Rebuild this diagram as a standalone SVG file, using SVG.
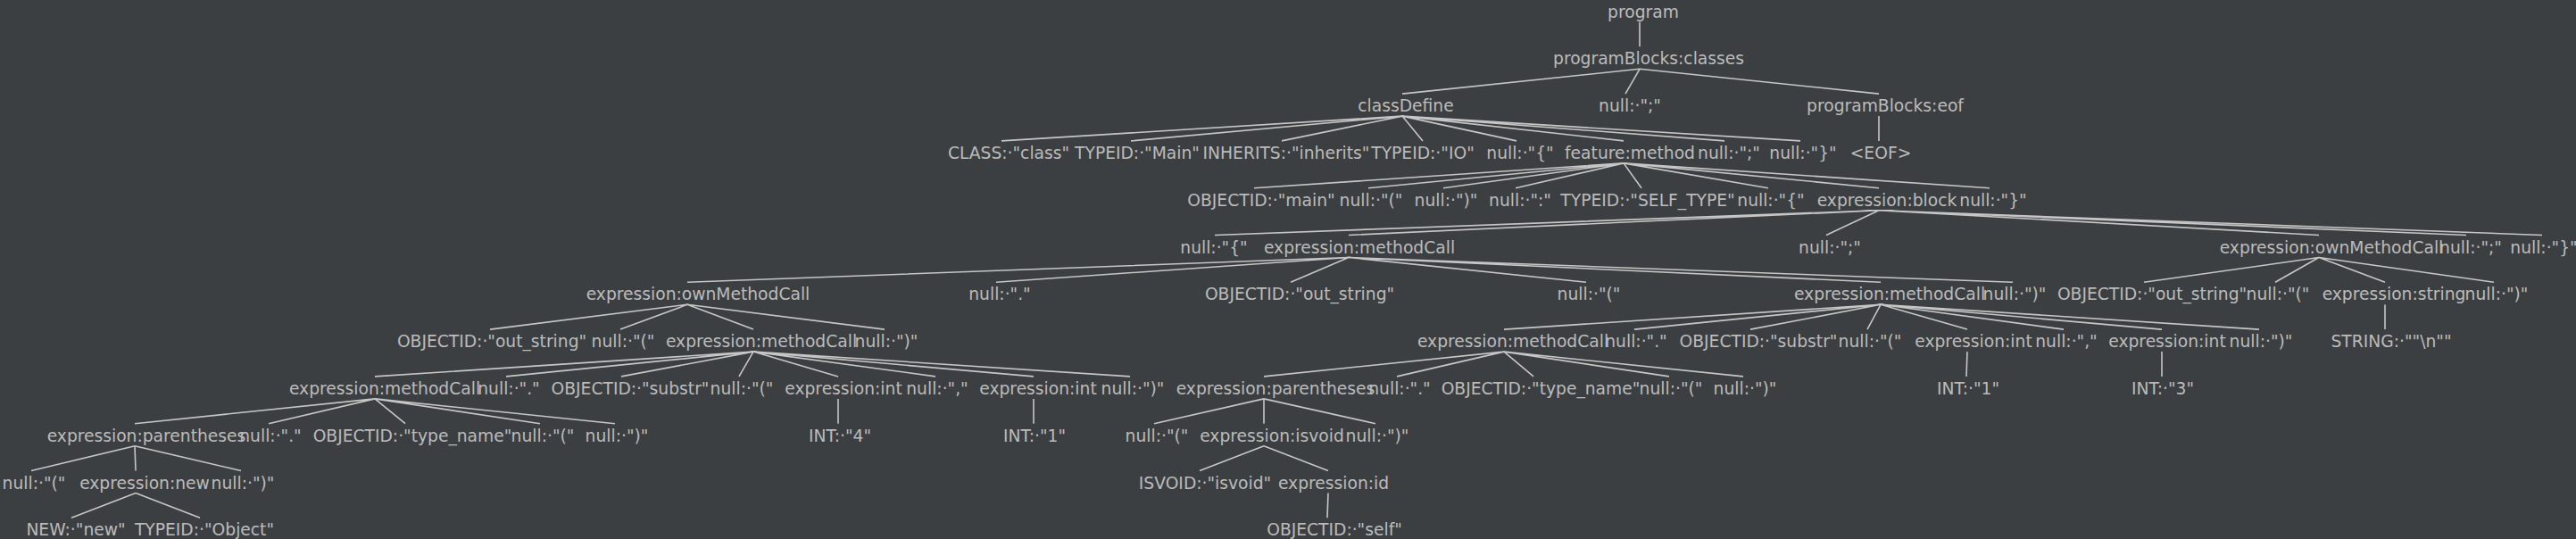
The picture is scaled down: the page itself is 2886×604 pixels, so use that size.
<svg xmlns="http://www.w3.org/2000/svg" width="2886" height="604" viewBox="0 0 2886 604">
<style>
text{font-family:"DejaVu Sans","Liberation Sans",sans-serif;font-size:18.7px;fill:#bbbbbb;text-anchor:middle}
.e path{stroke:#c6c6c6;stroke-width:1.6;fill:none}
</style>
<rect width="2886" height="604" fill="#3c3f41"/>
<g class="e" id="connectors">
<path d="M1837 24.5L1837 52.3"/>
<path d="M1837 77.3L1571 105.1M1837 77.3L1821 105.1M1837 77.3L2105 105.1"/>
<path d="M1571 130.1L1122 157.9M1571 130.1L1267 157.9M1571 130.1L1436 157.9M1571 130.1L1594 157.9M1571 130.1L1699 157.9M1571 130.1L1819 157.9M1571 130.1L1932 157.9M1571 130.1L2017 157.9"/>
<path d="M2105 130.1L2105 157.9"/>
<path d="M1819 182.9L1405 210.7M1819 182.9L1533 210.7M1819 182.9L1617 210.7M1819 182.9L1698 210.7M1819 182.9L1839 210.7M1819 182.9L1981 210.7M1819 182.9L2105 210.7M1819 182.9L2229 210.7"/>
<path d="M2105 235.7L1361 263.5M2105 235.7L1511 263.5M2105 235.7L2046 263.5M2105 235.7L2598 263.5M2105 235.7L2763 263.5M2105 235.7L2848 263.5"/>
<path d="M1511 288.5L770 316.3M1511 288.5L1116 316.3M1511 288.5L1446 316.3M1511 288.5L1777 316.3M1511 288.5L2107 316.3M1511 288.5L2255 316.3"/>
<path d="M2598 288.5L2402 316.3M2598 288.5L2549 316.3M2598 288.5L2672 316.3M2598 288.5L2794 316.3"/>
<path d="M770 341.3L549 369.1M770 341.3L695 369.1M770 341.3L844 369.1M770 341.3L991 369.1"/>
<path d="M2107 341.3L1685 369.1M2107 341.3L1831 369.1M2107 341.3L1961 369.1M2107 341.3L2092 369.1M2107 341.3L2204 369.1M2107 341.3L2312 369.1M2107 341.3L2422 369.1M2107 341.3L2531 369.1"/>
<path d="M2672 341.3L2672 369.1"/>
<path d="M844 394.1L420 421.9M844 394.1L567 421.9M844 394.1L696 421.9M844 394.1L828 421.9M844 394.1L939 421.9M844 394.1L1048 421.9M844 394.1L1158 421.9M844 394.1L1266 421.9"/>
<path d="M1685 394.1L1416 421.9M1685 394.1L1565 421.9M1685 394.1L1718 421.9M1685 394.1L1870 421.9M1685 394.1L1953 421.9"/>
<path d="M2204 394.1L2203 421.9M2422 394.1L2422 421.9"/>
<path d="M420 446.9L151 474.7M420 446.9L301 474.7M420 446.9L454 474.7M420 446.9L605 474.7M420 446.9L689 474.7"/>
<path d="M939 446.9L939 474.7M1158 446.9L1158 474.7"/>
<path d="M1416 446.9L1293 474.7M1416 446.9L1416 474.7M1416 446.9L1541 474.7"/>
<path d="M151 499.7L35 527.5M151 499.7L152 527.5M151 499.7L270 527.5"/>
<path d="M1416 499.7L1344 527.5M1416 499.7L1488 527.5"/>
<path d="M152 552.5L80 580.3M152 552.5L224 580.3"/>
<path d="M1488 552.5L1487 580.3"/>
</g>
<g id="n0"><text x="1841" y="19.5">program</text></g>
<g id="n1"><text x="1847" y="72.3">programBlocks:classes</text></g>
<g id="n2"><text x="1575" y="125.1">classDefine</text></g>
<g id="n3"><text x="1826" y="125.1">null:·";"</text></g>
<g id="n4"><text x="2112" y="125.1">programBlocks:eof</text></g>
<g id="n5"><text x="1130" y="177.9">CLASS:·"class"</text></g>
<g id="n6"><text x="1274" y="177.9">TYPEID:·"Main"</text></g>
<g id="n7"><text x="1441" y="177.9">INHERITS:·"inherits"</text></g>
<g id="n8"><text x="1594" y="177.9">TYPEID:·"IO"</text></g>
<g id="n9"><text x="1703" y="177.9">null:·"{"</text></g>
<g id="n10"><text x="1826" y="177.9">feature:method</text></g>
<g id="n11"><text x="1937" y="177.9">null:·";"</text></g>
<g id="n12"><text x="2020" y="177.9">null:·"}"</text></g>
<g id="n13"><text x="2107" y="177.9">&lt;EOF&gt;</text></g>
<g id="n14"><text x="1413" y="230.7">OBJECTID:·"main"</text></g>
<g id="n15"><text x="1536" y="230.7">null:·"("</text></g>
<g id="n16"><text x="1620" y="230.7">null:·")"</text></g>
<g id="n17"><text x="1703" y="230.7">null:·":"</text></g>
<g id="n18"><text x="1846" y="230.7">TYPEID:·"SELF_TYPE"</text></g>
<g id="n19"><text x="1984" y="230.7">null:·"{"</text></g>
<g id="n20"><text x="2114" y="230.7">expression:block</text></g>
<g id="n21"><text x="2233" y="230.7">null:·"}"</text></g>
<g id="n22"><text x="1360" y="283.5">null:·"{"</text></g>
<g id="n23"><text x="1523" y="283.5">expression:methodCall</text></g>
<g id="n24"><text x="2050" y="283.5">null:·";"</text></g>
<g id="n25"><text x="2612" y="283.5">expression:ownMethodCall</text></g>
<g id="n26"><text x="2768" y="283.5">null:·";"</text></g>
<g id="n27"><text x="2850" y="283.5">null:·"}"</text></g>
<g id="n28"><text x="782" y="336.3">expression:ownMethodCall</text></g>
<g id="n29"><text x="1120" y="336.3">null:·"."</text></g>
<g id="n30"><text x="1456" y="336.3">OBJECTID:·"out_string"</text></g>
<g id="n31"><text x="1780" y="336.3">null:·"("</text></g>
<g id="n32"><text x="2117" y="336.3">expression:methodCall</text></g>
<g id="n33"><text x="2257" y="336.3">null:·")"</text></g>
<g id="n34"><text x="2411" y="336.3">OBJECTID:·"out_string"</text></g>
<g id="n35"><text x="2552" y="336.3">null:·"("</text></g>
<g id="n36"><text x="2682" y="336.3">expression:string</text></g>
<g id="n37"><text x="2797" y="336.3">null:·")"</text></g>
<g id="n38"><text x="551" y="389.1">OBJECTID:·"out_string"</text></g>
<g id="n39"><text x="698" y="389.1">null:·"("</text></g>
<g id="n40"><text x="853" y="389.1">expression:methodCall</text></g>
<g id="n41"><text x="993" y="389.1">null:·")"</text></g>
<g id="n42"><text x="1695" y="389.1">expression:methodCall</text></g>
<g id="n43"><text x="1833" y="389.1">null:·"."</text></g>
<g id="n44"><text x="1970" y="389.1">OBJECTID:·"substr"</text></g>
<g id="n45"><text x="2095" y="389.1">null:·"("</text></g>
<g id="n46"><text x="2211" y="389.1">expression:int</text></g>
<g id="n47"><text x="2315" y="389.1">null:·","</text></g>
<g id="n48"><text x="2428" y="389.1">expression:int</text></g>
<g id="n49"><text x="2533" y="389.1">null:·")"</text></g>
<g id="n50"><text x="2679" y="389.1">STRING:·""\n""</text></g>
<g id="n51"><text x="431" y="441.9">expression:methodCall</text></g>
<g id="n52"><text x="570" y="441.9">null:·"."</text></g>
<g id="n53"><text x="706" y="441.9">OBJECTID:·"substr"</text></g>
<g id="n54"><text x="831" y="441.9">null:·"("</text></g>
<g id="n55"><text x="945" y="441.9">expression:int</text></g>
<g id="n56"><text x="1050" y="441.9">null:·","</text></g>
<g id="n57"><text x="1163" y="441.9">expression:int</text></g>
<g id="n58"><text x="1269" y="441.9">null:·")"</text></g>
<g id="n59"><text x="1429" y="441.9">expression:parentheses</text></g>
<g id="n60"><text x="1568" y="441.9">null:·"."</text></g>
<g id="n61"><text x="1726" y="441.9">OBJECTID:·"type_name"</text></g>
<g id="n62"><text x="1872" y="441.9">null:·"("</text></g>
<g id="n63"><text x="1955" y="441.9">null:·")"</text></g>
<g id="n64"><text x="2205" y="441.9">INT:·"1"</text></g>
<g id="n65"><text x="2423" y="441.9">INT:·"3"</text></g>
<g id="n66"><text x="164" y="494.7">expression:parentheses</text></g>
<g id="n67"><text x="303" y="494.7">null:·"."</text></g>
<g id="n68"><text x="462" y="494.7">OBJECTID:·"type_name"</text></g>
<g id="n69"><text x="608" y="494.7">null:·"("</text></g>
<g id="n70"><text x="691" y="494.7">null:·")"</text></g>
<g id="n71"><text x="941" y="494.7">INT:·"4"</text></g>
<g id="n72"><text x="1159" y="494.7">INT:·"1"</text></g>
<g id="n73"><text x="1296" y="494.7">null:·"("</text></g>
<g id="n74"><text x="1425" y="494.7">expression:isvoid</text></g>
<g id="n75"><text x="1543" y="494.7">null:·")"</text></g>
<g id="n76"><text x="38" y="547.5">null:·"("</text></g>
<g id="n77"><text x="162" y="547.5">expression:new</text></g>
<g id="n78"><text x="272" y="547.5">null:·")"</text></g>
<g id="n79"><text x="1350" y="547.5">ISVOID:·"isvoid"</text></g>
<g id="n80"><text x="1494" y="547.5">expression:id</text></g>
<g id="n81"><text x="85" y="600.3">NEW:·"new"</text></g>
<g id="n82"><text x="229" y="600.3">TYPEID:·"Object"</text></g>
<g id="n83"><text x="1495" y="600.3">OBJECTID:·"self"</text></g>
</svg>
